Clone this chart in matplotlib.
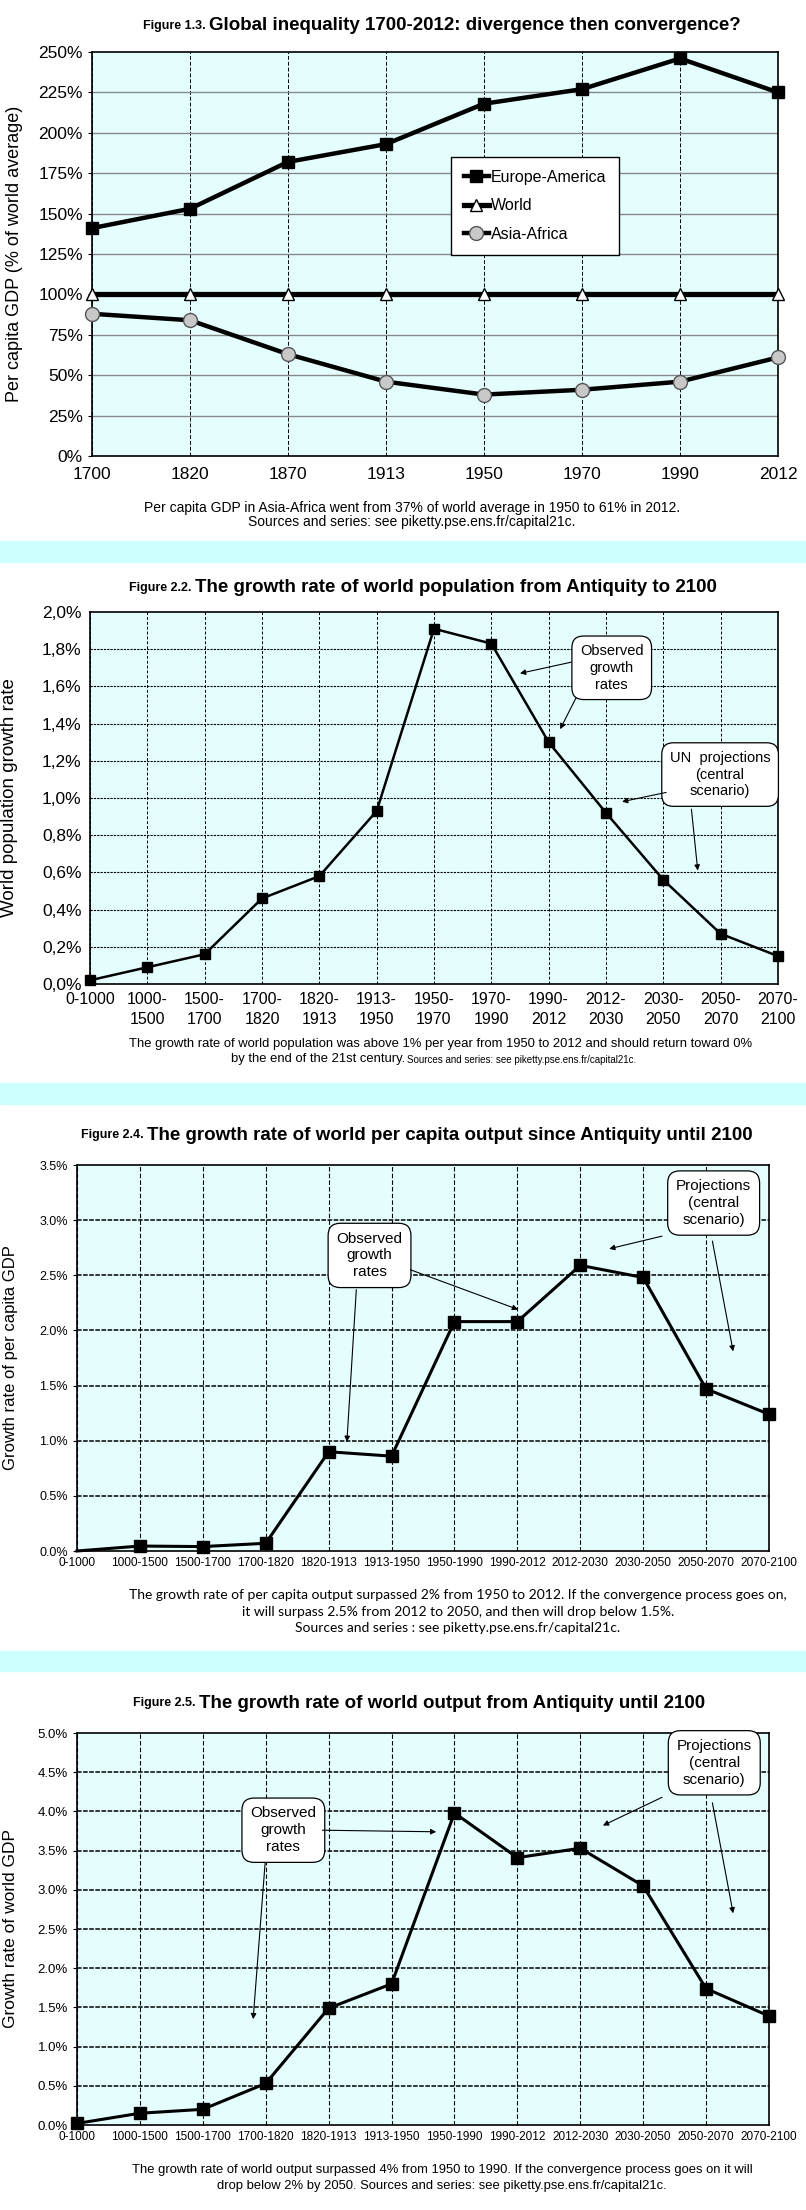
import matplotlib
matplotlib.use('Agg')
import matplotlib.pyplot as plt
from matplotlib import font_manager
from matplotlib.ticker import FuncFormatter

# --- data ---
years = ['1700', '1820', '1870', '1913', '1950', '1970', '1990', '2012']
europe_america = [141, 153, 182, 193, 218, 227, 246, 225]
world = [100, 100, 100, 100, 100, 100, 100, 100]
asia_africa = [88, 84, 63, 46, 38, 41, 46, 61]

pop_periods = ['0-1000', '1000-\n1500', '1500-\n1700', '1700-\n1820', '1820-\n1913',
               '1913-\n1950', '1950-\n1970', '1970-\n1990', '1990-\n2012', '2012-\n2030',
               '2030-\n2050', '2050-\n2070', '2070-\n2100']
pop_growth = [0.02, 0.09, 0.16, 0.46, 0.58, 0.93, 1.91, 1.83, 1.30, 0.92, 0.56, 0.27, 0.15]

out_periods = ['0-1000', '1000-1500', '1500-1700', '1700-1820', '1820-1913', '1913-1950',
               '1950-1990', '1990-2012', '2012-2030', '2030-2050', '2050-2070', '2070-2100']
percap_growth = [0.0, 0.045, 0.04, 0.07, 0.90, 0.86, 2.08, 2.08, 2.59, 2.48, 1.47, 1.24]
world_growth = [0.02, 0.15, 0.20, 0.53, 1.49, 1.80, 3.98, 3.41, 3.53, 3.05, 1.74, 1.39]

names = {f.name for f in font_manager.fontManager.ttflist}
NARROW = 'Liberation Sans Narrow' if 'Liberation Sans Narrow' in names else 'Liberation Sans'
ARIAL = 'Liberation Sans'
CALIBRI = 'Lato' if 'Lato' in names else 'Open Sans'
plt.rcParams['font.family'] = [NARROW, 'DejaVu Sans']

W, H = 806, 2210
AX_BG = '#E4FEFE'
BAND = '#CCFFFF'

fig = plt.figure(figsize=(W / 100, H / 100), dpi=100)


def px_axes(left, top, right, bottom):
    return fig.add_axes([left / W, 1 - bottom / H, (right - left) / W, (bottom - top) / H])


def fig_text(x, y, s, **kw):
    fig.text(x / W, 1 - y / H, s, **kw)


def band(top, bottom):
    fig.patches.append(plt.Rectangle((0, 1 - bottom / H), 1, (bottom - top) / H,
                                     transform=fig.transFigure, color=BAND, zorder=0))


def title(y, split, small, big):
    fig_text(split, y, small + ' ', ha='right', va='center', fontsize=9, fontweight='bold')
    fig_text(split, y, big, ha='left', va='center', fontsize=13.5, fontweight='bold')


def note(ax, x, y, s, fs=10.5):
    ax.text(x, y, s, ha='center', va='center', fontsize=fs, linespacing=1.25, zorder=6,
            bbox=dict(boxstyle='round,pad=0.55,rounding_size=0.8', fc='white', ec='black', lw=0.9))


def arrow(ax, start, end):
    ax.annotate('', xy=end, xytext=start, zorder=6,
                arrowprops=dict(arrowstyle='-|>', color='black', lw=0.8, mutation_scale=8,
                                shrinkA=0, shrinkB=0))


def style_axes(ax):
    ax.set_facecolor(AX_BG)
    for s in ax.spines.values():
        s.set_color('black')
        s.set_linewidth(1.2)
    ax.tick_params(length=3, color='black')


band(541, 562)
band(1083, 1104)
band(1651, 1671)

# --- Figure 1.3 ---
ax1 = px_axes(92, 52, 778, 456)
style_axes(ax1)
x1 = range(len(years))
for i in x1:
    ax1.axvline(i, color='black', lw=0.7, ls=(0, (4, 2)), zorder=1)
for v in range(25, 250, 25):
    ax1.axhline(v, color='#888888', lw=1.0, zorder=1)
ax1.plot(x1, europe_america, color='black', lw=3.2, marker='s', ms=8, mfc='black',
         mec='black', zorder=4, clip_on=False, label='Europe-America')
ax1.plot(x1, world, color='black', lw=3.8, marker='^', ms=9, mfc='white', mec='black',
         mew=1.0, zorder=4, clip_on=False, label='World')
ax1.plot(x1, asia_africa, color='black', lw=3.2, marker='o', ms=10, mfc='#C8C8C8',
         mec='#555555', mew=1.0, zorder=4, clip_on=False, label='Asia-Africa')
ax1.set_xlim(0, len(years) - 1)
ax1.set_ylim(0, 250)
ax1.set_xticks(list(x1))
ax1.set_xticklabels(years, fontsize=12.5)
ax1.set_yticks(range(0, 251, 25))
ax1.yaxis.set_major_formatter(FuncFormatter(lambda v, p: f'{v:.0f}%'))
ax1.tick_params(axis='y', labelsize=12.5)
ax1.tick_params(axis='x', length=0, pad=8)
ax1.set_ylabel('Per capita GDP (% of world average)', family=ARIAL, fontsize=13)
ax1.yaxis.set_label_coords(-0.1, 0.5)
leg = ax1.legend(loc='upper left', bbox_to_anchor=(0.523, 0.74), fontsize=11.5,
                 frameon=True, fancybox=False, edgecolor='black', framealpha=1,
                 handlelength=1.6, handletextpad=0.1, labelspacing=0.85,
                 borderpad=0.8, borderaxespad=0)
leg.get_frame().set_linewidth(1.0)
for t in leg.get_texts():
    t.set_family(ARIAL)
title(26, 209, 'Figure 1.3.', 'Global inequality 1700-2012: divergence then convergence?')
fig_text(412, 508, 'Per capita GDP in Asia-Africa went from 37% of world average in 1950 to 61% in 2012.',
         ha='center', va='center', fontsize=10)
fig_text(412, 522, 'Sources and series: see piketty.pse.ens.fr/capital21c.',
         ha='center', va='center', fontsize=10)

# --- Figure 2.2 ---
ax2 = px_axes(90, 612, 778, 984)
style_axes(ax2)
x2 = range(len(pop_periods))
for i in x2:
    ax2.axvline(i, color='black', lw=0.7, ls=(0, (3, 2)), zorder=1)
for v in [0.2, 0.4, 0.6, 0.8, 1.0, 1.2, 1.4, 1.6, 1.8]:
    ax2.axhline(v, color='black', lw=0.8, ls=(0, (2, 1)), zorder=1)
ax2.plot(x2, pop_growth, color='black', lw=1.8, marker='s', ms=7.5, zorder=4, clip_on=False)
ax2.set_xlim(0, len(pop_periods) - 1)
ax2.set_ylim(0, 2.0)
ax2.set_xticks(list(x2))
ax2.set_xticklabels(pop_periods, fontsize=11.5, linespacing=1.35)
ax2.set_yticks([0, 0.2, 0.4, 0.6, 0.8, 1.0, 1.2, 1.4, 1.6, 1.8, 2.0])
ax2.yaxis.set_major_formatter(FuncFormatter(lambda v, p: f'{v:.1f}%'.replace('.', ',')))
ax2.tick_params(axis='y', labelsize=12.5, length=0, pad=6)
ax2.tick_params(axis='x', length=0, pad=6)
ax2.set_ylabel('World population growth rate', family=ARIAL, fontsize=13.5)
ax2.yaxis.set_label_coords(-0.105, 0.5)
note(ax2, 9.1, 1.70, 'Observed\ngrowth\nrates')
note(ax2, 10.99, 1.126, 'UN  projections\n(central\nscenario)')
arrow(ax2, (8.39, 1.73), (7.5, 1.67))
arrow(ax2, (8.48, 1.54), (8.2, 1.37))
arrow(ax2, (10.05, 1.03), (9.28, 0.98))
arrow(ax2, (10.49, 0.94), (10.6, 0.61))
title(588, 195, 'Figure 2.2.', 'The growth rate of world population from Antiquity to 2100')
fig_text(441, 1044, 'The growth rate of world population was above 1% per year from 1950 to 2012 '
         'and should return toward 0%', ha='center', va='center', fontsize=9.4)
fig_text(405, 1059, 'by the end of the 21st century.', ha='right', va='center', fontsize=9.4)
fig_text(407, 1060, 'Sources and series: see piketty.pse.ens.fr/capital21c.', ha='left',
         va='center', fontsize=7)

# --- Figure 2.4 ---
ax3 = px_axes(77, 1165, 769, 1551)
style_axes(ax3)
x3 = range(len(out_periods))
for i in x3:
    ax3.axvline(i, color='black', lw=0.8, ls=(0, (4, 2)), zorder=1)
for v in [0.5, 1.0, 1.5, 2.0, 2.5, 3.0]:
    ax3.axhline(v, color='black', lw=1.1, ls=(0, (3, 1)), zorder=1)
ax3.plot(x3, percap_growth, color='black', lw=2.2, marker='s', ms=8, zorder=4, clip_on=False,
         markevery=list(range(1, len(out_periods))))
ax3.set_xlim(0, len(out_periods) - 1)
ax3.set_ylim(0, 3.5)
ax3.set_xticks(list(x3))
ax3.set_xticklabels(out_periods, family=ARIAL, fontsize=8.6)
ax3.set_yticks([0, 0.5, 1.0, 1.5, 2.0, 2.5, 3.0, 3.5])
ax3.yaxis.set_major_formatter(FuncFormatter(lambda v, p: f'{v:.1f}%'))
ax3.tick_params(axis='y', labelsize=9, length=3, labelfontfamily=ARIAL)
ax3.tick_params(axis='x', length=0, pad=4)
ax3.set_ylabel('Growth rate of per capita GDP', family=ARIAL, fontsize=12)
ax3.yaxis.set_label_coords(-0.085, 0.5)
note(ax3, 4.65, 2.68, 'Observed\ngrowth\nrates', fs=11)
note(ax3, 10.12, 3.155, 'Projections\n(central\nscenario)', fs=11)
arrow(ax3, (5.30, 2.55), (7.01, 2.19))
arrow(ax3, (4.44, 2.37), (4.29, 0.99))
arrow(ax3, (9.30, 2.855), (8.46, 2.74))
arrow(ax3, (10.10, 2.81), (10.43, 1.81))
title(1135, 147, 'Figure 2.4.', 'The growth rate of world per capita output since Antiquity until 2100')
cap3 = ['The growth rate of per capita output surpassed 2% from 1950 to 2012. '
        'If the convergence process goes on,',
        'it will surpass 2.5% from 2012 to 2050, and then will drop below 1.5%.',
        'Sources and series : see piketty.pse.ens.fr/capital21c.']
for k, line in enumerate(cap3):
    fig_text(458, 1595 + 16.5 * k, line, ha='center', va='center', fontsize=10,
             family=[CALIBRI, 'DejaVu Sans'])

# --- Figure 2.5 ---
ax4 = px_axes(77, 1733, 769, 2125)
style_axes(ax4)
for i in x3:
    ax4.axvline(i, color='black', lw=0.8, ls=(0, (4, 2)), zorder=1)
for v in [0.5, 1.0, 1.5, 2.0, 2.5, 3.0, 3.5, 4.0, 4.5]:
    ax4.axhline(v, color='black', lw=1.1, ls=(0, (3, 1)), zorder=1)
ax4.plot(x3, world_growth, color='black', lw=2.2, marker='s', ms=8, zorder=4, clip_on=False)
ax4.set_xlim(0, len(out_periods) - 1)
ax4.set_ylim(0, 5.0)
ax4.set_xticks(list(x3))
ax4.set_xticklabels(out_periods, fontsize=8.5)
ax4.set_yticks([0, 0.5, 1.0, 1.5, 2.0, 2.5, 3.0, 3.5, 4.0, 4.5, 5.0])
ax4.yaxis.set_major_formatter(FuncFormatter(lambda v, p: f'{v:.1f}%'))
ax4.tick_params(axis='y', labelsize=9.5, length=3)
ax4.tick_params(axis='x', length=0, pad=4)
ax4.set_ylabel('Growth rate of world GDP', family=ARIAL, fontsize=12.5)
ax4.yaxis.set_label_coords(-0.085, 0.5)
note(ax4, 3.28, 3.76, 'Observed\ngrowth\nrates', fs=11)
note(ax4, 10.13, 4.62, 'Projections\n(central\nscenario)', fs=11)
arrow(ax4, (3.90, 3.76), (5.71, 3.74))
arrow(ax4, (2.99, 3.34), (2.80, 1.35))
arrow(ax4, (9.30, 4.18), (8.36, 3.82))
arrow(ax4, (10.10, 4.11), (10.43, 2.70))
title(1703, 199, 'Figure 2.5.', 'The growth rate of world output from Antiquity until 2100')
fig_text(442, 2170, 'The growth rate of world output surpassed 4% from 1950 to 1990. '
         'If the convergence process goes on it will', ha='center', va='center', fontsize=9.4)
fig_text(442, 2186, 'drop below 2% by 2050. Sources and series: see piketty.pse.ens.fr/capital21c.',
         ha='center', va='center', fontsize=9.4)

fig.savefig('out.png', dpi=100)
